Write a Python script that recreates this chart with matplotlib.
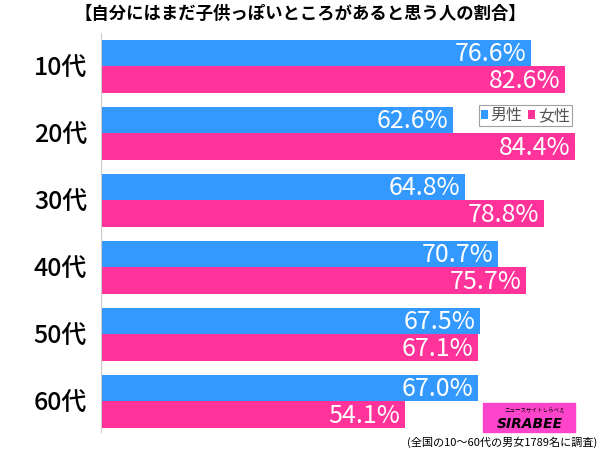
import numpy as np
import matplotlib.pyplot as plt
from matplotlib.patches import Rectangle

plt.rcParams['font.family'] = ['Noto Sans CJK JP', 'DejaVu Sans']

# data
ages = ['10代', '20代', '30代', '40代', '50代', '60代']
male = [76.6, 62.6, 64.8, 70.7, 67.5, 67.0]
female = [82.6, 84.4, 78.8, 75.7, 67.1, 54.1]
title = '【自分にはまだ子供っぽいところがあると思う人の割合】'
note = '(全国の10～60代の男女1789名に調査)'

blue = '#3399FF'
pink = '#FF3399'

fig = plt.figure(figsize=(6.0, 4.49), dpi=100)
W, H = 600, 449
# axes from x=101 to 600, y=33 to 432 (pixels from top)
ax = fig.add_axes([101 / W, 1 - 432 / H, 499 / W, (432 - 33) / H])

y = np.arange(len(ages))
bh = 26.5 / 67
ax.barh(y - bh / 2, male, height=bh, color=blue, label='男性')
ax.barh(y + bh / 2, female, height=bh, color=pink, label='女性')

for i in range(len(ages)):
    ax.text(male[i] - 0.8, y[i] - bh / 2 + 0.02, f'{male[i]:.1f}%', color='white',
            ha='right', va='center', fontsize=18)
    ax.text(female[i] - 0.8, y[i] + bh / 2 + 0.02, f'{female[i]:.1f}%', color='white',
            ha='right', va='center', fontsize=18)

ax.set_xlim(0, 499 / 5.62)
ax.set_ylim(5 + (432 - 401) / 67, -(66 - 33) / 67)
ax.set_yticks(y)
ax.set_yticklabels(ages, fontsize=18, fontweight='medium')
ax.tick_params(axis='y', length=0, pad=10)
ax.set_xticks([])
for s in ['top', 'right', 'bottom']:
    ax.spines[s].set_visible(False)
ax.spines['left'].set_color('#CCCCCC')

leg = ax.legend(loc='upper left', bbox_to_anchor=(479 / W, 1 - 105 / H),
                bbox_transform=fig.transFigure, fontsize=11.5, frameon=True,
                fancybox=False, edgecolor='#888888', ncol=2, handlelength=0.45,
                handleheight=0.45, handletextpad=0.15, columnspacing=0.35,
                borderpad=0.12, borderaxespad=0)
leg.get_frame().set_linewidth(0.8)
for t in leg.get_texts():
    t.set_color('#555555')

fig.text(0.5, 1 - 14 / H, title, ha='center', va='center', fontsize=12.5,
         fontweight='bold')

# logo
fig.patches.append(Rectangle((483 / W, 1 - 432 / H), 92 / W, 29 / H,
                             transform=fig.transFigure, color='#FF44CC',
                             zorder=5))
fig.text(530 / W, 1 - 424 / H, 'SIRABEE', ha='center', va='center',
         fontsize=10, fontweight='bold', style='italic', color='black',
         family='DejaVu Sans', zorder=6)
fig.text(535 / W, 1 - 411 / H, 'ニュースサイトしらべぇ', ha='center', va='center',
         fontsize=4, color='black', zorder=6)
fig.text(597 / W, 1 - 442 / H, note, ha='right', va='center', fontsize=8)

fig.savefig('out.png', dpi=100)
